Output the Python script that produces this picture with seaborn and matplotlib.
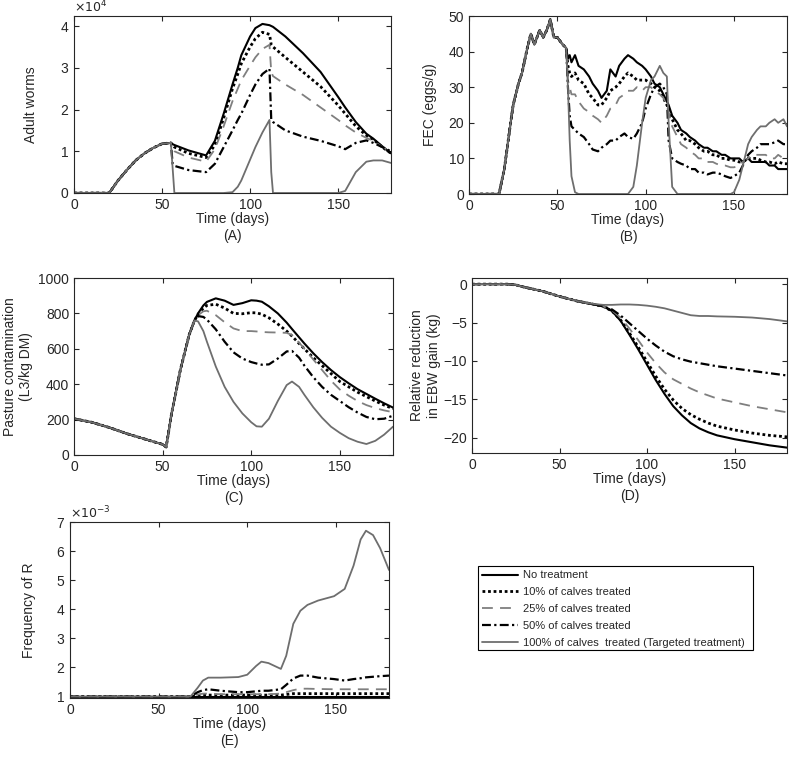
import numpy as np
import matplotlib
matplotlib.use("Agg")
import matplotlib.pyplot as plt
import seaborn as sns
from matplotlib.patches import Rectangle
from matplotlib.ticker import ScalarFormatter

sns.set_style("ticks")
plt.rcParams["font.family"] = ["Liberation Sans", "DejaVu Sans"]
plt.rcParams.update({
    "xtick.direction": "in", "ytick.direction": "in",
    "xtick.top": True, "ytick.right": True,
    "xtick.major.size": 3.5, "ytick.major.size": 3.5,
    "axes.edgecolor": "#262626", "axes.linewidth": 0.8,
    "xtick.color": "#262626", "ytick.color": "#262626",
    "font.size": 10,
})

SERIES = ["No treatment", "10% of calves treated", "25% of calves treated",
          "50% of calves treated", "100% of calves  treated (Targeted treatment)"]

# ---- (A) adult worms, x1e4 ----
t_a = [0, 20, 25, 30, 35, 40, 45, 50, 55, 56, 57, 65, 75, 80, 85, 90, 93, 95, 100, 103,
       107, 111, 112, 113, 120, 130, 140, 150, 154, 160, 166, 170, 175, 180]
early_a = [0, 0, 0.3, 0.55, 0.78, 0.95, 1.08, 1.18, 1.2]
worms_none = early_a + [1.17, 1.15, 1.02, 0.9, 1.25, 1.9, 2.6, 3.0, 3.3, 3.75, 3.95,
                        4.05, 4.02, 4.0, 3.98, 3.75, 3.35, 2.9, 2.3, 2.05, 1.7, 1.42, 1.3, 1.12, 0.95]
worms_10 = early_a + [1.15, 1.1, 0.95, 0.85, 1.15, 1.8, 2.5, 2.85, 3.1, 3.5, 3.7,
                      3.85, 3.8, 3.55, 3.5, 3.25, 2.9, 2.55, 2.1, 1.9, 1.6, 1.38, 1.28, 1.1, 0.95]
worms_25 = early_a + [1.05, 1.0, 0.85, 0.75, 1.05, 1.6, 2.2, 2.5, 2.7, 3.05, 3.25,
                      3.45, 3.55, 2.9, 2.8, 2.6, 2.35, 2.05, 1.75, 1.62, 1.45, 1.32, 1.25, 1.1, 1.0]
worms_50 = early_a + [0.7, 0.65, 0.55, 0.5, 0.7, 1.1, 1.5, 1.75, 1.9, 2.35, 2.6,
                      2.85, 2.98, 1.75, 1.7, 1.5, 1.35, 1.25, 1.12, 1.05, 1.2, 1.26, 1.2, 1.1, 1.0]
worms_100 = early_a + [0.6, 0.0, 0, 0, 0, 0, 0.02, 0.15, 0.3, 0.8, 1.1,
                       1.45, 1.75, 0.5, 0, 0, 0, 0, 0, 0.05, 0.5, 0.75, 0.78, 0.78, 0.72]
WORM_SCALE = 1e4

# ---- (B) FEC ----
t_b = [0, 17, 20, 23, 25, 28, 30, 33, 35, 37, 40, 42, 44, 46, 48, 50, 53, 55,
       56, 57, 58, 60, 62, 65, 68, 70, 73, 75, 78, 80, 83, 85, 88, 90, 93, 95, 98, 100,
       103, 105, 108, 110, 112, 113, 115, 118, 120, 123, 125, 128, 130, 133, 135, 138,
       140, 143, 145, 148, 150, 153, 155, 158, 160, 163, 165, 168, 170, 173, 175, 178, 180]
early_b = [0, 0, 7, 18, 25, 31, 34, 41, 45, 42, 46, 44, 46, 49, 44, 44, 42, 41]
fec_none = early_b + [38, 39, 37, 39, 36, 35, 33, 31, 29, 27, 29, 35, 33, 36, 38, 39, 38, 37, 36, 35,
                      33, 31, 30, 28, 26, 25, 22, 20, 18, 17, 16, 15, 14, 13, 13, 12,
                      12, 11, 11, 10, 10, 10, 9, 10, 9, 9, 9, 9, 8, 8, 7, 7, 7]
fec_10 = early_b + [36, 34, 33, 34, 32, 31, 28, 27, 25, 25, 27, 29, 30, 31, 33, 34, 33, 32, 32, 32,
                    31, 30, 29, 27, 25, 24, 21, 18, 17, 15, 15, 14, 13, 12, 12, 11,
                    11, 10, 10, 9.5, 9.5, 9, 9, 10, 10, 10, 9.5, 9, 9, 8.5, 9, 8.5, 8.5]
fec_25 = early_b + [32, 30, 28, 28, 26, 24, 23, 22, 21, 20, 22, 24, 25, 27, 28, 29, 29, 30, 29, 30,
                    30, 29, 28, 27, 25, 23, 19, 16, 14, 13, 12, 11, 10, 10, 9, 9,
                    8.5, 8, 8, 7.5, 7.5, 8, 9, 10, 11, 11, 11, 11, 10, 10, 11, 10, 10]
fec_50 = early_b + [30, 22, 19, 18, 17, 16, 14, 12.5, 12, 13, 14, 15, 15, 16, 17, 16, 15.5, 17, 20, 24,
                    28, 30, 31, 30, 28, 15, 10, 9, 8.5, 8, 7, 7, 6, 6, 5.5, 6,
                    6, 5.5, 5, 4.5, 5, 6, 8, 11, 12, 13, 14, 14, 14, 14.5, 15, 14, 14]
fec_100 = early_b + [30, 15, 5, 0.5, 0, 0, 0, 0, 0, 0, 0, 0, 0, 0, 0, 0, 2, 8, 20, 27,
                     32, 33, 36, 34, 33, 20, 2, 0, 0, 0, 0, 0, 0, 0, 0, 0,
                     0, 0, 0, 0, 0.5, 4, 8, 14, 16, 18, 19, 19, 20, 21, 20, 21, 19]

# ---- (C) pasture contamination ----
t_c = [0, 10, 20, 30, 40, 50, 52, 55, 60, 65, 68, 70, 73, 75, 80, 85, 90, 95, 100, 103,
       106, 110, 115, 120, 123, 127, 130, 135, 140, 145, 150, 155, 160, 165, 170, 175, 180]
early_c = [205, 185, 155, 120, 90, 60, 45, 230, 480, 680, 760]
past_none = early_c + [800, 845, 865, 885, 872, 848, 858, 874, 872, 866, 840, 800, 748, 712,
                       665, 630, 575, 525, 480, 440, 405, 372, 345, 318, 292, 268]
past_10 = early_c + [795, 830, 845, 852, 830, 800, 798, 804, 803, 795, 775, 740, 700, 672,
                     630, 600, 550, 505, 460, 415, 385, 355, 330, 305, 282, 262]
past_25 = early_c + [790, 812, 815, 790, 750, 715, 700, 700, 698, 695, 693, 692, 690, 678,
                     635, 600, 540, 480, 420, 370, 335, 305, 282, 265, 252, 242]
past_50 = early_c + [785, 780, 765, 710, 640, 580, 545, 525, 517, 510, 512, 545, 585, 588,
                     550, 505, 440, 385, 340, 305, 270, 240, 215, 202, 205, 222]
past_100 = early_c + [755, 700, 640, 500, 385, 300, 235, 185, 162, 160, 205, 305, 395, 415,
                      385, 340, 270, 210, 160, 125, 95, 75, 62, 80, 115, 160]

# ---- (D) relative reduction in EBW gain ----
t_d = [0, 20, 25, 30, 40, 50, 60, 70, 75, 80, 85, 90, 95, 100, 105, 110, 115, 120, 125,
       130, 135, 140, 150, 160, 170, 180]
early_d = [0, 0, -0.1, -0.4, -0.9, -1.6, -2.2, -2.65, -2.9]
ebw_none = early_d + [-3.5, -4.8, -6.6, -8.5, -10.5, -12.5, -14.3, -15.9, -17.1, -18.1,
                      -18.8, -19.3, -19.7, -20.2, -20.6, -21.0, -21.3]
ebw_10 = early_d + [-3.5, -4.7, -6.4, -8.2, -10.1, -12.0, -13.7, -15.1, -16.2, -17.0,
                    -17.6, -18.1, -18.5, -19.0, -19.4, -19.7, -19.9]
ebw_25 = early_d + [-3.4, -4.4, -5.8, -7.3, -8.9, -10.3, -11.5, -12.4, -13.0, -13.6,
                    -14.1, -14.5, -14.9, -15.4, -15.9, -16.3, -16.7]
ebw_50 = early_d + [-3.3, -4.1, -5.1, -6.1, -7.1, -8.0, -8.8, -9.4, -9.8, -10.1,
                    -10.3, -10.5, -10.7, -11.0, -11.3, -11.6, -11.9]
ebw_100 = [0, 0, -0.1, -0.4, -0.9, -1.6, -2.2, -2.6, -2.7, -2.7, -2.65, -2.65, -2.7,
           -2.8, -2.95, -3.15, -3.45, -3.75, -4.05, -4.15, -4.15, -4.2, -4.25, -4.35, -4.55, -4.85]

# ---- (E) frequency of R, x1e-3 ----
t_e = [0, 68, 72, 75, 78, 85, 95, 100, 105, 108, 112, 119, 122, 126, 130, 134, 140, 149,
       155, 160, 164, 167, 171, 175, 180]
freq_none = [1.0] * 25
freq_10 = [1.0, 1.0, 1.03, 1.05, 1.05, 1.05, 1.05, 1.05, 1.05, 1.05, 1.05, 1.05, 1.07, 1.1,
           1.1, 1.1, 1.1, 1.1, 1.1, 1.1, 1.1, 1.1, 1.1, 1.1, 1.1]
freq_25 = [1.0, 1.0, 1.07, 1.1, 1.1, 1.08, 1.08, 1.08, 1.08, 1.08, 1.08, 1.1, 1.15, 1.22,
           1.27, 1.27, 1.26, 1.25, 1.25, 1.25, 1.25, 1.25, 1.25, 1.25, 1.25]
freq_50 = [1.0, 1.0, 1.15, 1.22, 1.25, 1.2, 1.15, 1.15, 1.18, 1.2, 1.2, 1.25, 1.4, 1.62,
           1.72, 1.72, 1.65, 1.6, 1.55, 1.6, 1.63, 1.66, 1.68, 1.7, 1.72]
freq_100 = [1.0, 1.0, 1.3, 1.55, 1.65, 1.65, 1.67, 1.75, 2.05, 2.2, 2.15, 1.95, 2.4, 3.5,
            3.95, 4.15, 4.3, 4.45, 4.7, 5.5, 6.4, 6.7, 6.55, 6.1, 5.35]
FREQ_SCALE = 1e-3

STYLES = [
    dict(color="black", linestyle="-", linewidth=1.5),
    dict(color="black", linestyle=(0, (1, 1)), linewidth=2.0),
    dict(color="#7f7f7f", linestyle=(0, (6, 4)), linewidth=1.3),
    dict(color="black", linestyle=(0, (4, 1.5, 1, 1.5)), linewidth=1.6),
    dict(color="#6e6e6e", linestyle="-", linewidth=1.3),
]

fig = plt.figure(figsize=(7.89, 7.61), dpi=100)
W, H = 789, 761


def add_axes(x0, x1, y0, y1):
    return fig.add_axes([x0 / W, 1 - y1 / H, (x1 - x0) / W, (y1 - y0) / H])


def draw(ax, t, series, scale=1.0):
    for vals, st in zip(series, STYLES):
        y = np.asarray(vals, dtype=float) * scale
        sns.lineplot(x=t, y=y, ax=ax, sort=False, estimator=None, **st)
    ax.set_xlim(0, 180)
    ax.set_xticks([0, 50, 100, 150])


def sci_axis(ax, label):
    fmt = ScalarFormatter(useMathText=True)
    fmt.set_powerlimits((0, 0))
    fmt.set_useOffset(False)
    ax.yaxis.set_major_formatter(fmt)
    ax.yaxis.get_offset_text().set_visible(False)
    ax.text(0.0, 1.02, label, transform=ax.transAxes, ha="left", va="baseline",
            fontsize=9, color="#262626")


XL = dict(linespacing=1.3, labelpad=0)

# (A)
axA = add_axes(74, 391, 16, 193)
draw(axA, t_a, [worms_none, worms_10, worms_25, worms_50, worms_100], WORM_SCALE)
axA.set_ylim(0, 4.24e4)
axA.set_yticks(np.arange(0, 5) * 1e4)
sci_axis(axA, r"$\times10^{4}$")
axA.set_ylabel("Adult worms", labelpad=16)
axA.set_xlabel("Time (days)\n(A)", **XL)

# (B)
axB = add_axes(469, 787, 16, 194)
draw(axB, t_b, [fec_none, fec_10, fec_25, fec_50, fec_100])
axB.set_ylim(0, 50)
axB.set_yticks(range(0, 51, 10))
axB.set_ylabel("FEC (eggs/g)", labelpad=8)
axB.set_xlabel("Time (days)\n(B)", **XL)

# (C)
axC = add_axes(74, 393, 278, 455)
draw(axC, t_c, [past_none, past_10, past_25, past_50, past_100])
axC.set_ylim(0, 1000)
axC.set_yticks(range(0, 1001, 200))
axC.set_ylabel("Pasture contamination\n(L3/kg DM)")
axC.set_xlabel("Time (days)\n(C)", **XL)

# (D)
axD = add_axes(472, 787, 278, 453)
draw(axD, t_d, [ebw_none, ebw_10, ebw_25, ebw_50, ebw_100])
axD.set_ylim(-22, 0.8)
axD.set_yticks([-20, -15, -10, -5, 0])
axD.set_ylabel("Relative reduction\nin EBW gain (kg)", labelpad=2)
axD.set_xlabel("Time (days)\n(D)", **XL)

# (E)
axE = add_axes(70, 389, 522, 698)
draw(axE, t_e, [freq_none, freq_10, freq_25, freq_50, freq_100], FREQ_SCALE)
axE.set_ylim(0.95e-3, 7e-3)
axE.set_yticks(np.arange(1, 8) * 1e-3)
sci_axis(axE, r"$\times10^{-3}$")
axE.set_ylabel("Frequency of R", labelpad=14)
axE.set_xlabel("Time (days)\n(E)", **XL)

for ax in [axA, axB, axC, axD, axE]:
    for s in ax.spines.values():
        s.set_visible(True)
    ax.tick_params(labelsize=10)

# legend without its own frame; box drawn separately to match the reference size
handles = [plt.Line2D([], [], **st) for st in STYLES]
leg = fig.legend(handles, SERIES, loc="upper left",
                 bbox_to_anchor=(478 / W, 1 - 566 / H),
                 prop={"family": "Liberation Sans", "size": 8},
                 frameon=False, handlelength=3.2,
                 borderaxespad=0, labelspacing=0.62, handletextpad=0.45,
                 borderpad=0.4)
fig.patches.append(Rectangle((478 / W, 1 - 650 / H), 275 / W, 84 / H,
                             transform=fig.transFigure, fill=False,
                             edgecolor="black", linewidth=0.8))

fig.savefig("out.png", dpi=100)
